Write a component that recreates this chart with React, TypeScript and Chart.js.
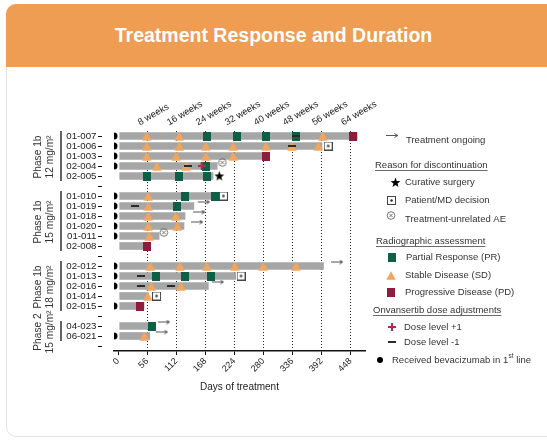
import React, { useEffect, useRef } from 'react';
import { Chart, registerables } from 'chart.js';

Chart.register(...registerables);

const FONT = "'Liberation Sans', Arial, Helvetica, sans-serif";

// ---------- data ----------
const rowLabels = [
  '01-007', '01-006', '01-003', '02-004', '02-005', ' ',
  '01-010', '01-019', '01-018', '01-020', '01-011', '02-008', '  ',
  '02-012', '01-013', '02-016', '01-014', '02-015', '   ',
  '04-023', '06-021', '    ',
];

const barStartDay = 3;
const barEndDays: (number | null)[] = [
  461, 393, 291, 191, 183, null,
  194, 146, 129, 127, 79, 62, null,
  396, 227, 174, 58, 50, null,
  67, 61, null,
];

const dayTicks = [0, 56, 112, 168, 224, 280, 336, 392, 448];
const weekTicks = [8, 16, 24, 32, 40, 48, 56, 64];

const bevacizumabRows = ['01-007', '01-006', '01-003', '02-004', '01-010', '01-019', '01-018', '01-020', '01-011', '02-012', '01-013', '02-016', '02-015', '06-021'];
const bevacizumabDay = -8;

const prPoints: [string, number][] = [
  ['01-007', 171], ['01-007', 229], ['01-007', 285], ['01-007', 342],
  ['02-004', 170],
  ['02-005', 55], ['02-005', 118], ['02-005', 172],
  ['01-010', 129], ['01-010', 187],
  ['01-019', 114],
  ['01-013', 73], ['01-013', 129], ['01-013', 180],
  ['04-023', 66],
];
const sdPoints: [string, number][] = [
  ['01-007', 55], ['01-007', 118], ['01-007', 395],
  ['01-006', 55], ['01-006', 118], ['01-006', 169], ['01-006', 222], ['01-006', 285], ['01-006', 335], ['01-006', 386],
  ['01-003', 55], ['01-003', 112], ['01-003', 169], ['01-003', 222],
  ['02-004', 75], ['02-004', 131],
  ['01-010', 58],
  ['01-019', 58],
  ['01-018', 58], ['01-018', 111],
  ['01-020', 58], ['01-020', 114],
  ['01-011', 60],
  ['02-012', 62], ['02-012', 119], ['02-012', 171], ['02-012', 225], ['02-012', 280], ['02-012', 343],
  ['02-016', 64], ['02-016', 121],
  ['01-014', 57],
  ['06-021', 50],
];
const pdPoints: [string, number][] = [['01-007', 453], ['01-003', 285], ['02-008', 55], ['02-015', 43]];
const doseUpPoints: [string, number][] = [['02-004', 161]];
const doseDownPoints: [string, number][] = [
  ['01-007', 342], ['01-006', 335], ['02-004', 135], ['01-019', 32],
  ['01-013', 45], ['02-016', 45], ['02-016', 102],
];
const ongoingPoints: [string, number][] = [
  ['01-019', 165], ['01-018', 156], ['01-020', 152], ['02-012', 422],
  ['02-016', 192], ['04-023', 88], ['06-021', 84],
];
const surgeryPoints: [string, number][] = [['02-005', 195]];
const decisionPoints: [string, number][] = [['01-006', 405], ['01-010', 203], ['01-013', 237], ['01-014', 74]];
const aePoints: [string, number][] = [['02-004', 201], ['01-011', 88]];

const groupPhases = ['Phase 1b', 'Phase 1b', 'Phase 1b', 'Phase 2'];
const groupDoses = ['12 mg/m²', '15 mg/m²', '18 mg/m²', '15 mg/m²'];
const groupFirstRows = ['01-007', '01-010', '02-012', '04-023'];
const groupLastRows = ['02-005', '02-008', '02-015', '06-021'];

// ---------- colours ----------
const C_BAR = '#a6a6a6';
const C_PR = '#0f5e47';
const C_SD = '#f3a65b';
const C_PD = '#8d1c3d';
const C_PLUS = '#a8304f';
const C_MINUS = '#2a2a2a';

type Markers = Record<string, HTMLCanvasElement>;

function mk(w: number, h: number, draw: (g: CanvasRenderingContext2D) => void) {
  const c = document.createElement('canvas');
  c.width = w;
  c.height = h;
  const g = c.getContext('2d')!;
  draw(g);
  return c;
}

function makeMarkers(): Markers {
  return {
    pr: mk(8, 9, g => { g.fillStyle = C_PR; g.fillRect(0, 0, 8, 9); }),
    pd: mk(8, 9, g => { g.fillStyle = C_PD; g.fillRect(0, 0, 8, 9); }),
    sd: mk(10, 9, g => {
      g.fillStyle = C_SD;
      g.beginPath(); g.moveTo(5, 0.3); g.lineTo(9.7, 8.7); g.lineTo(0.3, 8.7); g.closePath(); g.fill();
    }),
    plus: mk(8, 8, g => { g.fillStyle = C_PLUS; g.fillRect(3, 0, 2, 8); g.fillRect(0, 3, 8, 2); }),
    minus: mk(8, 4, g => { g.fillStyle = C_MINUS; g.fillRect(0, 1, 8, 2); }),
    arrow: mk(14, 13, g => {
      g.strokeStyle = '#555'; g.lineWidth = 1;
      g.beginPath(); g.moveTo(1, 2.5); g.lineTo(12.5, 2.5); g.stroke();
      g.beginPath(); g.moveTo(9.5, 0.5); g.lineTo(12.8, 2.5); g.lineTo(9.5, 4.5); g.stroke();
    }),
    star: mk(11, 11, g => {
      g.fillStyle = '#000';
      g.beginPath();
      for (let i = 0; i < 10; i++) {
        const r = i % 2 === 0 ? 5.2 : 2.1;
        const a = -Math.PI / 2 + (i * Math.PI) / 5;
        const px = 5.5 + r * Math.cos(a);
        const py = 5.8 + r * Math.sin(a);
        if (i === 0) g.moveTo(px, py); else g.lineTo(px, py);
      }
      g.closePath(); g.fill();
    }),
    box: mk(9, 9, g => {
      g.strokeStyle = '#444'; g.lineWidth = 1;
      g.strokeRect(0.5, 0.5, 8, 8);
      g.fillStyle = '#333';
      g.beginPath(); g.arc(4.5, 4.5, 1.3, 0, Math.PI * 2); g.fill();
    }),
    ae: mk(10, 16, g => {
      g.strokeStyle = '#666'; g.lineWidth = 0.9;
      g.beginPath(); g.arc(5, 4.5, 3.8, 0, Math.PI * 2); g.stroke();
      g.beginPath();
      g.moveTo(3.3, 2.8); g.lineTo(6.7, 6.2);
      g.moveTo(6.7, 2.8); g.lineTo(3.3, 6.2);
      g.stroke();
    }),
  };
}

const toPts = (arr: [string, number][]) => arr.map(([id, d]) => ({ x: d, y: id }));

function buildConfig(m: Markers): any {
  const scatter = (data: [string, number][], style: HTMLCanvasElement, order: number) => ({
    type: 'scatter',
    data: toPts(data),
    pointStyle: style,
    pointRadius: 4,
    pointHoverRadius: 4,
    order,
  });

  const decorations = {
    id: 'decorations',
    afterDraw(chart: any) {
      const ctx: CanvasRenderingContext2D = chart.ctx;
      const ys = chart.scales.y;
      ctx.save();
      // group brackets + labels
      groupPhases.forEach((ph, i) => {
        const y0 = ys.getPixelForValue(rowLabels.indexOf(groupFirstRows[i])) - 5;
        const y1 = ys.getPixelForValue(rowLabels.indexOf(groupLastRows[i])) + 5;
        ctx.strokeStyle = '#111';
        ctx.lineWidth = 1.3;
        ctx.beginPath(); ctx.moveTo(61, y0); ctx.lineTo(61, y1); ctx.stroke();
        const cy = (y0 + y1) / 2 + 1;
        ctx.save();
        ctx.translate(38, cy);
        ctx.rotate(-Math.PI / 2);
        ctx.fillStyle = '#333';
        ctx.font = `10.2px ${FONT}`;
        ctx.textAlign = 'center';
        ctx.textBaseline = 'middle';
        ctx.fillText(ph, 0, 0);
        ctx.fillText(groupDoses[i], 0, 12.5);
        ctx.restore();
      });

      // legend
      const img = (c: HTMLCanvasElement, x: number, y: number) =>
        ctx.drawImage(c, Math.round(x - c.width / 2), Math.round(y - c.height / 2));
      ctx.fillStyle = '#333';
      ctx.textBaseline = 'middle';
      ctx.textAlign = 'left';
      const text = (t: string, x: number, y: number) => {
        ctx.font = `9.5px ${FONT}`;
        ctx.fillText(t, x, y);
      };
      const heading = (t: string, x: number, y: number) => {
        ctx.font = `9.5px ${FONT}`;
        ctx.fillText(t, x, y);
        const w = ctx.measureText(t).width;
        ctx.strokeStyle = '#444';
        ctx.lineWidth = 0.8;
        ctx.beginPath(); ctx.moveTo(x, y + 5.5); ctx.lineTo(x + w, y + 5.5); ctx.stroke();
      };
      img(m.arrow, 392, 139); text('Treatment ongoing', 406, 140);
      heading('Reason for discontinuation', 375, 165);
      img(m.star, 395, 182); text('Curative surgery', 405, 182);
      img(m.box, 391, 200); text('Patient/MD decision', 405, 200);
      img(m.ae, 391, 219); text('Treatment-unrelated AE', 405, 219);
      heading('Radiographic assessment', 376, 241);
      img(m.pr, 392, 257); text('Partial Response (PR)', 406, 257);
      img(m.sd, 391, 275); text('Stable Disease (SD)', 405, 275);
      img(m.pd, 391, 292); text('Progressive Disease (PD)', 405, 292);
      heading('Onvansertib dose adjustments', 373, 310);
      img(m.plus, 392, 327); text('Dose level +1', 404, 327);
      img(m.minus, 392, 342); text('Dose level -1', 404, 342);
      ctx.fillStyle = '#000';
      ctx.beginPath(); ctx.arc(380, 360, 3, 0, Math.PI * 2); ctx.fill();
      ctx.fillStyle = '#333';
      const base = 'Received bevacizumab in 1';
      text(base, 392, 360);
      let x = 392 + ctx.measureText(base).width;
      ctx.font = `6.5px ${FONT}`;
      ctx.fillText('st', x + 0.3, 356.5);
      x += ctx.measureText('st').width + 0.3;
      text(' line', x, 360);
      ctx.restore();
    },
  };

  return {
    type: 'bar',
    data: {
      labels: rowLabels,
      datasets: [
        {
          type: 'bar',
          data: barEndDays.map(e => (e == null ? null : [barStartDay, e])),
          backgroundColor: C_BAR,
          barThickness: 7,
          borderWidth: 0,
          order: 10,
        },
        scatter(sdPoints, m.sd, 6),
        scatter(prPoints, m.pr, 6),
        scatter(pdPoints, m.pd, 6),
        scatter(doseDownPoints, m.minus, 4),
        scatter(doseUpPoints, m.plus, 4),
        scatter(ongoingPoints, m.arrow, 3),
        scatter(surgeryPoints, m.star, 3),
        scatter(decisionPoints, m.box, 3),
        scatter(aePoints, m.ae, 3),
        {
          type: 'scatter',
          data: bevacizumabRows.map(id => ({ x: bevacizumabDay, y: id })),
          pointStyle: 'circle',
          pointRadius: 3.5,
          pointHoverRadius: 3.5,
          backgroundColor: '#000',
          borderWidth: 0,
          clip: 0,
          order: 1,
        },
      ],
    },
    options: {
      responsive: false,
      animation: false,
      events: [],
      indexAxis: 'y',
      layout: { padding: { left: 0, right: 182, top: 0, bottom: 46 } },
      plugins: {
        legend: { display: false },
        tooltip: { enabled: false },
      },
      scales: {
        x: {
          type: 'linear',
          position: 'bottom',
          min: -8,
          max: 476,
          afterBuildTicks: (s: any) => { s.ticks = dayTicks.map(v => ({ value: v })); },
          afterFit: (s: any) => { s.height = 44; },
          ticks: {
            font: { size: 9, family: FONT }, color: '#222',
            minRotation: 45, maxRotation: 45, padding: 1, autoSkip: false,
          },
          grid: { drawOnChartArea: false, drawTicks: true, tickLength: 4, color: '#111', lineWidth: 1 },
          border: { display: true, color: '#111', width: 1.5 },
          title: {
            display: true, text: 'Days of treatment',
            font: { size: 10, family: FONT }, color: '#222',
            padding: { top: 0, bottom: 2 },
          },
        },
        x2: {
          type: 'linear',
          position: 'top',
          min: -8,
          max: 476,
          afterBuildTicks: (s: any) => { s.ticks = weekTicks.map(w => ({ value: w * 7 })); },
          afterFit: (s: any) => { s.height = 131; },
          ticks: {
            font: { size: 9.3, family: FONT }, color: '#222',
            minRotation: 30, maxRotation: 30, padding: 3, labelOffset: -3, autoSkip: false,
            callback: (v: number) => `${v / 7} weeks`,
          },
          grid: { drawOnChartArea: true, drawTicks: false, color: '#222', lineWidth: 1 },
          border: { display: false, dash: [1, 2] },
        },
        y: {
          type: 'category',
          labels: rowLabels,
          offset: true,
          afterFit: (s: any) => { s.width = 114; },
          ticks: { font: { size: 9.7, family: FONT }, color: '#222', padding: 1.5, autoSkip: false },
          grid: {
            offset: false, drawOnChartArea: false, drawTicks: true, tickLength: 16,
            tickBorderDash: [4, 40], color: '#111', lineWidth: 1,
          },
          border: { display: false },
        },
      },
    },
    plugins: [decorations],
  };
}

export default function App() {
  const ref = useRef<HTMLCanvasElement>(null);
  useEffect(() => {
    if (!ref.current) return;
    const chart = new Chart(ref.current, buildConfig(makeMarkers()));
    return () => chart.destroy();
  }, []);

  return (
    <div style={{ position: 'fixed', left: 0, top: 0, width: 547, height: 441, overflow: 'hidden', background: '#fff', fontFamily: FONT }}>
      <div style={{ position: 'absolute', left: 6, top: 4, width: 620, height: 433, border: '1px solid #e4e4e4', borderRadius: 10, boxSizing: 'border-box', background: '#fff' }} />
      <div style={{ position: 'absolute', left: 6, top: 4, width: 620, height: 63, background: '#EE9D52', borderRadius: '10px 10px 0 0' }} />
      <div style={{ position: 'absolute', left: 0, top: 4, width: 547, height: 63, lineHeight: '63px', textAlign: 'center', color: '#fff', fontWeight: 'bold', fontSize: 19.5 }}>
        Treatment Response and Duration
      </div>
      <canvas ref={ref} width={547} height={441} style={{ position: 'absolute', left: 0, top: 0, width: 547, height: 441 }} />
    </div>
  );
}
